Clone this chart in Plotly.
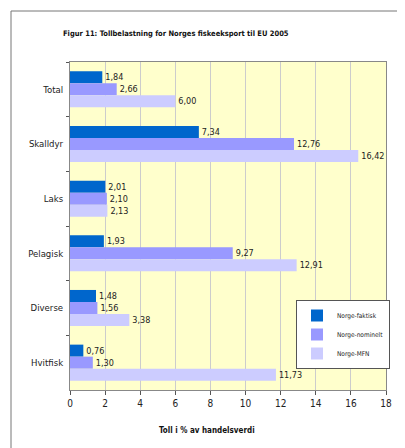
import plotly.graph_objects as go

categories = ["Total", "Skalldyr", "Laks", "Pelagisk", "Diverse", "Hvitfisk"]
faktisk = [1.84, 7.34, 2.01, 1.93, 1.48, 0.76]
nominelt = [2.66, 12.76, 2.10, 9.27, 1.56, 1.30]
mfn = [6.00, 16.42, 2.13, 12.91, 3.38, 11.73]

series = [
    ("Norge-faktisk", faktisk, "#0066CC"),
    ("Norge-nominelt", nominelt, "#9999FF"),
    ("Norge-MFN", mfn, "#CCCCFF"),
]

FONT = "DejaVu Sans Condensed, Liberation Sans Narrow, Liberation Sans, Arial, sans-serif"

# page has an 8px body margin, so the figure is drawn 8px smaller
W, H = 397, 440
ML, MR, MT, MB = 62, 19, 54, 58
PW, PH = W - ML - MR, H - MT - MB


def fmt(v):
    return f"{v:.2f}".replace(".", ",")


fig = go.Figure()
for name, vals, color in series:
    fig.add_trace(
        go.Bar(
            y=categories,
            x=vals,
            orientation="h",
            name=name,
            marker=dict(color=color, line=dict(width=0)),
            text=[fmt(v) for v in vals],
            textposition="outside",
            textfont=dict(size=9, color="#222222", family=FONT),
            cliponaxis=False,
        )
    )

fig.update_layout(
    width=W,
    height=H,
    barmode="group",
    bargap=0.34,
    bargroupgap=0,
    paper_bgcolor="white",
    plot_bgcolor="#FFFFCC",
    font=dict(family=FONT, size=10, color="#222222"),
    margin=dict(l=ML, r=MR, t=MT, b=MB, autoexpand=False),
    title=dict(
        text="<b>Figur 11: Tollbelastning for Norges fiskeeksport til EU 2005</b>",
        x=55 / W,
        xanchor="left",
        y=1 - 25 / H,
        yanchor="middle",
        font=dict(size=7.5, family=FONT, color="#111111"),
    ),
    legend=dict(
        x=(296 - 70) / PW,
        y=(390 - 300) / PH,
        xanchor="left",
        yanchor="top",
        bgcolor="white",
        bordercolor="#555555",
        borderwidth=1,
        font=dict(size=6.5, family=FONT),
        tracegroupgap=0,
        itemwidth=30,
    ),
    showlegend=True,
    annotations=[
        dict(
            text="<b>Toll i % av handelsverdi</b>",
            xref="paper", yref="paper",
            x=(207 - 70) / PW, y=-(430 - 390) / PH,
            xanchor="center", yanchor="middle",
            showarrow=False,
            font=dict(size=8, family=FONT, color="#111111"),
        )
    ],
    shapes=[
        dict(
            type="line", xref="paper", yref="paper",
            x0=-59 / PW, x1=-59 / PW, y0=1 + 51 / PH, y1=-MB / PH,
            line=dict(color="#777777", width=1),
        ),
        dict(
            type="line", xref="paper", yref="paper",
            x0=-59 / PW, x1=1 + MR / PW, y0=1 + 51 / PH, y1=1 + 51 / PH,
            line=dict(color="#777777", width=1),
        ),
    ],
)

fig.update_xaxes(
    automargin=False,
    range=[0, 18],
    dtick=2,
    tick0=0,
    showgrid=True,
    gridcolor="#CCCCCC",
    gridwidth=1,
    zeroline=False,
    ticks="outside",
    ticklen=4,
    tickcolor="#555555",
    showline=True,
    linecolor="#888888",
    mirror=True,
    tickfont=dict(size=10, family=FONT),
)

fig.update_yaxes(
    automargin=False,
    autorange="reversed",
    ticks="outside",
    tickson="boundaries",
    ticklen=3,
    tickcolor="#555555",
    showline=True,
    linecolor="#888888",
    mirror=True,
    showgrid=False,
    ticklabelstandoff=4,
    tickfont=dict(size=9.5, family=FONT),
)

fig.write_html("out.html")
